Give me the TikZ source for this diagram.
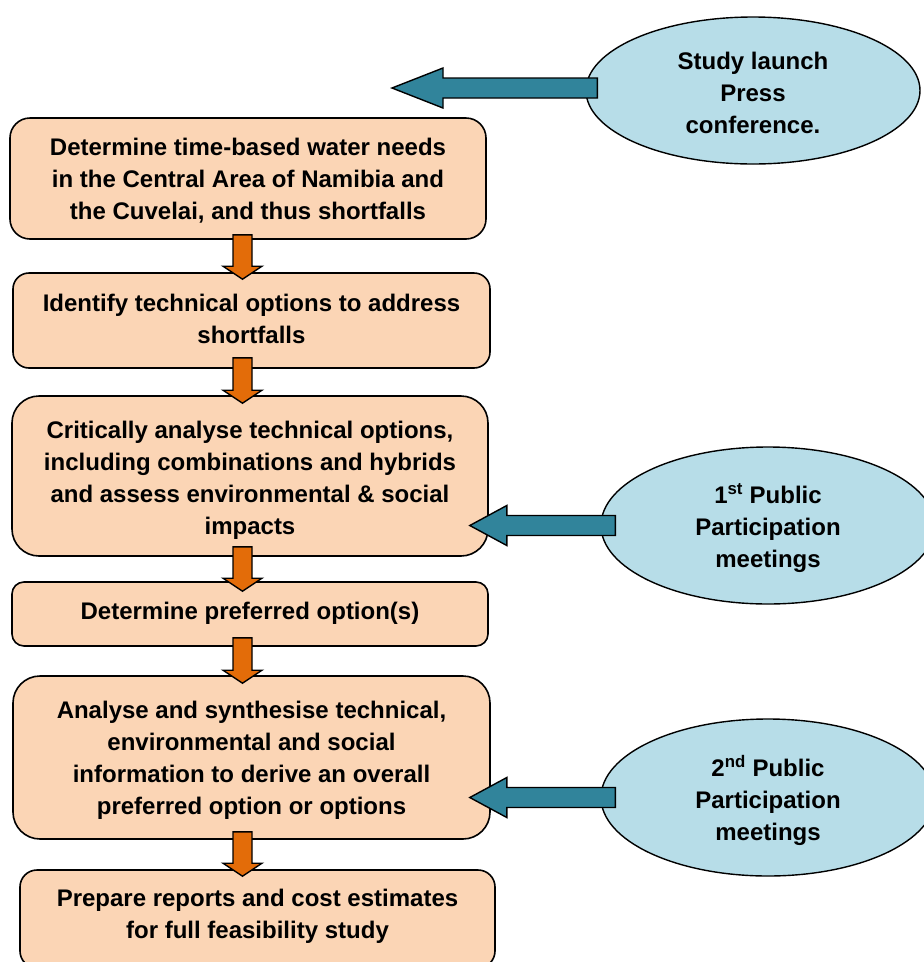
\documentclass[tikz,border=0pt]{standalone}
\usepackage{fontspec}
\setmainfont{Liberation Sans}
\usetikzlibrary{calc,shapes.geometric}
\definecolor{peach}{HTML}{FBD5B5}
\definecolor{aorange}{HTML}{E36C09}
\definecolor{ateal}{HTML}{31849B}
\definecolor{lblue}{HTML}{B7DDE8}
\tikzset{
  pbox/.style={draw=black, line width=1.6pt, fill=peach, inner sep=0pt},
  bubble/.style={ellipse, draw=black, line width=1.4pt, fill=lblue, inner sep=0pt},
  txt/.style={align=center, inner sep=0pt, font=\bfseries\fontsize{24}{32}\selectfont},
  oarrow/.style={draw=black, line width=1.4pt, fill=aorange, line join=miter},
  tarrow/.style={draw=black, line width=1.4pt, fill=ateal, line join=miter}
}
% vertical fat arrow: #1 top of shaft, #2 tip
\newcommand\vfat[2]{\draw[oarrow] let \p1=(#1), \p2=(#2) in
  ({\x1-9.5pt},{\y1}) -- ({\x1+9.5pt},{\y1}) -- ({\x1+9.5pt},{\y2+13pt}) --
  ({\x1+19.5pt},{\y2+13pt}) -- ({\x1},{\y2}) -- ({\x1-19.5pt},{\y2+13pt}) --
  ({\x1-9.5pt},{\y2+13pt}) -- cycle;}
% horizontal fat arrow pointing left: #1 right end of shaft, #2 tip, #3 head length
\newcommand\hfat[3]{\draw[tarrow] let \p1=(#1), \p2=(#2) in
  ({\x1},{\y2-10pt}) -- ({\x1},{\y2+10pt}) -- ({\x2+#3},{\y2+10pt}) --
  ({\x2+#3},{\y2+20pt}) -- ({\x2},{\y2}) -- ({\x2+#3},{\y2-20pt}) --
  ({\x2+#3},{\y2-10pt}) -- cycle;}
\begin{document}
\begin{tikzpicture}[x=1pt,y=-1pt]
\clip (0,0) rectangle (924,962);
\fill[white] (0,0) rectangle (924,962);
\coordinate (ax) at (242.5,0);
\coordinate (t1) at (392,88);
% boxes
\node[pbox, minimum width=476pt, minimum height=121pt, rounded corners=20pt] (b1) at (248,178.5) {};
\node[pbox, minimum width=477pt, minimum height=95pt, rounded corners=16pt] (b2) at (251.5,320.5) {};
\node[pbox, minimum width=476pt, minimum height=160pt, rounded corners=27pt] (b3) at (250,476) {};
\node[pbox, minimum width=476pt, minimum height=64pt, rounded corners=12pt] (b4) at (250,614) {};
\node[pbox, minimum width=477pt, minimum height=163pt, rounded corners=27pt] (b5) at (251.5,757.5) {};
\node[pbox, minimum width=475pt, minimum height=98pt, rounded corners=17pt] (b6) at (257.5,919) {};
% box texts
\node[txt] (tb1) at ($(b1.center)+(0,2)$)
  {Determine time-based water needs\\in the Central Area of Namibia and\\the Cuvelai, and thus shortfalls};
\node[txt] (tb2) at ($(b2.center)+(0,-2)$)
  {Identify technical options to address\\shortfalls};
\node[txt] (tb3) at ($(b3.center)+(0,4)$)
  {Critically analyse technical options,\\including combinations and hybrids\\and assess environmental \& social\\impacts};
\node[txt] (tb4) at ($(b4.center)+(0,-1)$)
  {Determine preferred option(s)};
\node[txt] (tb5) at ($(b5.center)+(0,3)$)
  {Analyse and synthesise technical,\\environmental and social\\information to derive an overall\\preferred option or options};
\node[txt] (tb6) at ($(b6.center)+(0,-3)$)
  {Prepare reports and cost estimates\\for full feasibility study};
% ellipses
\node[bubble, minimum width=334pt, minimum height=147pt] (e1) at (753,90.5) {};
\node[bubble, minimum width=334pt, minimum height=157pt] (e2) at (768,525.5) {};
\node[bubble, minimum width=334pt, minimum height=157pt] (e3) at (768,797.5) {};
\node[txt] (te1) at ($(e1.center)+(0,2.5)$) {Study launch\\Press\\conference.};
\node[txt] (te2) at ($(e2.center)+(0,3)$) {1\textsuperscript{st} Public\\Participation\\meetings};
\node[txt] (te3) at ($(e3.center)+(0,3)$) {2\textsuperscript{nd} Public\\Participation\\meetings};
% orange down arrows
\vfat{$(b1.south -| ax)+(0,-5)$}{$(b2.north -| ax)+(0,7)$}
\vfat{$(b2.south -| ax)+(0,-11)$}{$(b3.north -| ax)+(0,8)$}
\vfat{$(b3.south -| ax)+(0,-10)$}{$(b4.north -| ax)+(0,10)$}
\vfat{$(b4.south -| ax)+(0,-9)$}{$(b5.north -| ax)+(0,8)$}
\vfat{$(b5.south -| ax)+(0,-8)$}{$(b6.north -| ax)+(0,7)$}
% teal left arrows
\hfat{$(e1.west)+(12,0)$}{t1}{51pt}
\hfat{$(e2.west)+(15,0)$}{$(b3.east |- e2.west)+(-19,0)$}{37pt}
\hfat{$(e3.west)+(15,0)$}{$(b5.east |- e3.west)+(-21,0)$}{37pt}
\end{tikzpicture}
\end{document}
